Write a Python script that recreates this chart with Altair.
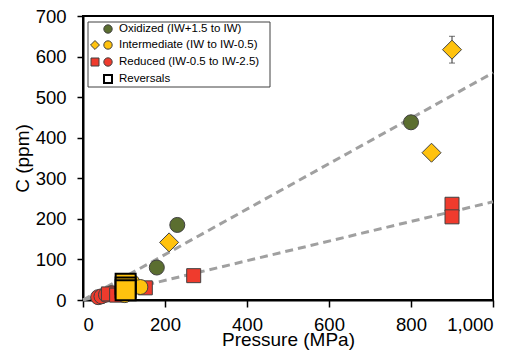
import altair as alt
import pandas as pd

# ---- data ----
ox_p = [180, 230, 800]
ox_c = [80, 185, 438]

int_d_p = [210, 850, 900]
int_d_c = [142, 363, 617]
err_p = [900]
err_lo = [584]
err_hi = [650]

int_c_p = [102, 120, 140, 102]
int_c_c = [18, 44, 32, 12]

red_s_p = [62, 82, 152, 270, 900, 900]
red_s_c = [15, 12, 30, 60, 236, 205]

red_c_p = [37, 45, 56, 70, 90]
red_c_c = [7, 9, 13, 17, 20]

rev_p = [104, 104, 104]
rev_c = [40, 31, 24]

fit_p = [0, 1000]
fit_hi = [0, 560]
fit_lo = [0, 242]

x_ticks = [0, 200, 400, 600, 800, 1000]
y_ticks = [0, 100, 200, 300, 400, 500, 600, 700]

legend_labels = ["Oxidized (IW+1.5 to IW)", "Intermediate (IW to IW-0.5)",
                 "Reduced (IW-0.5 to IW-2.5)", "Reversals"]

GREEN = "#5B6E30"
YELLOW = "#FFC20E"
RED = "#EF3B2D"
EDGE = "#404040"
FONT = "Liberation Sans"

xs = alt.Scale(domain=[0, 1000], nice=False)
ys = alt.Scale(domain=[0, 700], nice=False)

xaxis = alt.Axis(title="Pressure (MPa)", values=x_ticks,
                 labelExpr="format(datum.value, ',')",
                 grid=False, tickSize=7, labelPadding=8, titlePadding=-3)
yaxis = alt.Axis(title="C (ppm)", values=y_ticks,
                 labelExpr="format(datum.value, 'd')",
                 grid=False, tickSize=6, labelPadding=11, titlePadding=3)


def pts(p, c, shape, fill, size, stroke=EDGE, sw=1.0):
    df = pd.DataFrame({"P": p, "C": c})
    return alt.Chart(df).mark_point(shape=shape, filled=True, fill=fill, opacity=1,
                                    stroke=stroke, strokeWidth=sw, size=size).encode(
        x=alt.X("P:Q", scale=xs, axis=xaxis),
        y=alt.Y("C:Q", scale=ys, axis=yaxis),
    )


def fit(p, c):
    df = pd.DataFrame({"P": p, "C": c})
    return alt.Chart(df).mark_line(color="#A0A0A0", strokeWidth=3, strokeDash=[8, 5]).encode(
        x=alt.X("P:Q", scale=xs, axis=xaxis),
        y=alt.Y("C:Q", scale=ys, axis=yaxis),
    )


err = alt.Chart(pd.DataFrame({"P": err_p, "C": err_lo, "hi": err_hi})).mark_errorbar(
    ticks=alt.MarkConfig(size=6, color="#333"), color="#333", thickness=1
).encode(
    x=alt.X("P:Q", scale=xs, axis=xaxis),
    y=alt.Y("C:Q", scale=ys, axis=yaxis),
    y2="hi:Q",
)

layers = [
    fit(fit_p, fit_hi),
    fit(fit_p, fit_lo),
    err,
    pts(red_c_p, red_c_c, "circle", RED, 225),
    pts(red_s_p, red_s_c, "square", RED, 196),
    pts(int_c_p, int_c_c, "circle", YELLOW, 225),
    pts(rev_p, rev_c, "square", YELLOW, 400, stroke="black", sw=2),
    pts(ox_p, ox_c, "circle", GREEN, 225),
    pts(int_d_p, int_d_c, "diamond", YELLOW, 361),
]

# ---- manual legend ----
one = pd.DataFrame({"a": [0]})
legend = [
    alt.Chart(one).mark_rect(fill="white", stroke=EDGE, strokeWidth=1).encode(
        x=alt.value(5), x2=alt.value(187), y=alt.value(6), y2=alt.value(71)),
]
rows_y = [13, 29, 46, 63]
sym = [
    (25, 0, "circle", GREEN, 70, EDGE, 1),
    (12, 1, "diamond", YELLOW, 80, EDGE, 1),
    (25, 1, "circle", YELLOW, 70, EDGE, 1),
    (12, 2, "square", RED, 64, EDGE, 1),
    (25, 2, "circle", RED, 70, EDGE, 1),
    (25, 3, "square", "white", 64, "black", 2),
]
for sx, r, shp, fc, sz, st, sw in sym:
    legend.append(alt.Chart(one).mark_point(shape=shp, filled=True, fill=fc, opacity=1,
                                            stroke=st, strokeWidth=sw, size=sz).encode(
        x=alt.value(sx), y=alt.value(rows_y[r])))
for r, lab in enumerate(legend_labels):
    legend.append(alt.Chart(one).mark_text(align="left", baseline="middle", font=FONT,
                                           fontSize=11.5, color="black").encode(
        x=alt.value(36), y=alt.value(rows_y[r]), text=alt.value(lab)))

chart = alt.layer(*layers, *legend).properties(
    width=410, height=284,
    autosize=alt.AutoSizeParams(type="none"),
    padding={"left": 75, "top": 8, "right": 23, "bottom": 52},
).configure_view(
    stroke="black", strokeWidth=2
).configure_axis(
    domainColor="black", domainWidth=2, tickColor="black", tickWidth=1.5,
    labelFont=FONT, titleFont=FONT, labelFontSize=18.5, titleFontSize=19,
    labelColor="black", titleColor="black", titleFontWeight="normal",
)

chart.save("out.html", embed_options={"renderer": "svg", "actions": False})
